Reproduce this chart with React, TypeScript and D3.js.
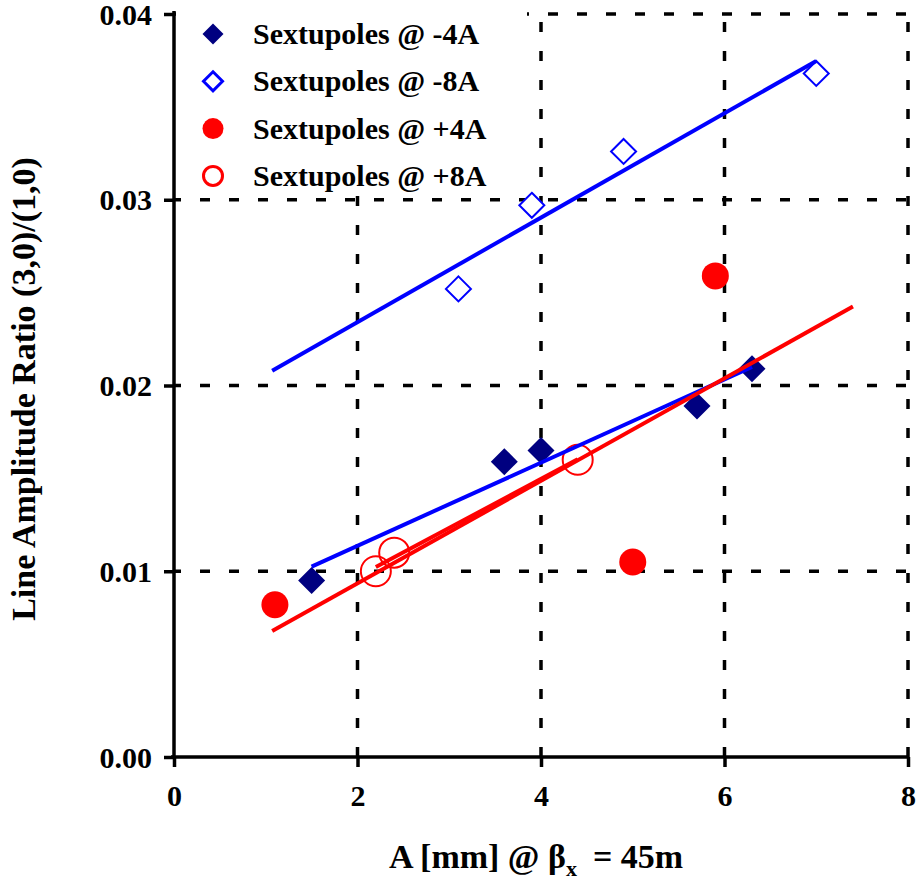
import React, { useRef, useEffect } from "react"
import * as d3 from "d3"

// series: [A (mm), ratio]
const minus4A: [number, number][] = [[1.5, 0.0095], [3.6, 0.0159], [4.0, 0.0165], [5.7, 0.0189], [6.3, 0.0209]]
const minus8A: [number, number][] = [[3.1, 0.0252], [3.9, 0.0297], [4.9, 0.0326], [7.0, 0.0368]]
const plus4A: [number, number][] = [[1.1, 0.0082], [5.0, 0.0105], [5.9, 0.0259]]
const plus8A: [number, number][] = [[2.2, 0.0100], [2.4, 0.0110], [4.4, 0.0160]]

// x extent of each linear trendline
const trendMinus4A = [1.5, 6.3]
const trendMinus8A = [1.07, 7.0]
const trendPlus4A = [1.07, 7.4]
const trendPlus8A = [2.2, 4.4]

const xTicks = [0, 2, 4, 6, 8]
const yTicks = [0, 0.01, 0.02, 0.03, 0.04]
const legendLabels = ["Sextupoles @ -4A", "Sextupoles @ -8A", "Sextupoles @ +4A", "Sextupoles @ +8A"]

const FONT = "'Liberation Serif', 'Times New Roman', serif"
const NAVY = "#000080"
const BLUE = "#0000FF"
const RED = "#FF0000"

const fit = (pts: [number, number][]) => {
    const mx = d3.mean(pts, d => d[0]) as number
    const my = d3.mean(pts, d => d[1]) as number
    const sxy = d3.sum(pts, d => (d[0] - mx) * (d[1] - my))
    const sxx = d3.sum(pts, d => (d[0] - mx) ** 2)
    const k = sxy / sxx
    return (x: number) => my + k * (x - mx)
}

const App = () => {
    let element = useRef<SVGSVGElement>(null)

    useEffect(() => {
        const width = 919, height = 882
        const svg = d3.select(element.current)
        svg.selectAll("*").remove()

        const x = d3.scaleLinear().domain([0, 8]).range([174, 908])
        const y = d3.scaleLinear().domain([0, 0.04]).range([757, 14])

        // dashed grid
        const grid = svg.append("g")
            .attr("stroke", "#000")
            .attr("stroke-width", 3.5)
            .attr("stroke-dasharray", "10,19")
        grid.selectAll(".hg")
            .data(yTicks.slice(1))
            .enter().append("line")
            .attr("x1", x(0)).attr("x2", x(8))
            .attr("y1", d => y(d)).attr("y2", d => y(d))
            .attr("stroke-dashoffset", 3)
        grid.selectAll(".vg")
            .data(xTicks.slice(1))
            .enter().append("line")
            .attr("x1", d => x(d)).attr("x2", d => x(d))
            .attr("y1", y(0)).attr("y2", y(0.04))
            .attr("stroke-dashoffset", 0)

        // legend area hides the grid behind it
        svg.append("rect")
            .attr("x", x(0) + 2).attr("y", 0)
            .attr("width", 527 - x(0) - 2).attr("height", 196)
            .attr("fill", "#fff")

        // axes
        svg.append("g")
            .attr("transform", "translate(" + x(0) + ",0)")
            .call(d3.axisLeft(y).tickValues(yTicks).tickSize(10).tickSizeOuter(0).tickFormat(d3.format(".2f")))
            .call(g => g.select(".domain").attr("stroke-width", 3.5).attr("d", "M0," + (y(0.04) - 3) + "V" + y(0)))
            .call(g => g.selectAll(".tick line").attr("stroke-width", 3.5))
            .call(g => g.selectAll(".tick text")
                .attr("x", -22).attr("dy", "0.34em")
                .attr("font-family", FONT).attr("font-weight", "bold").attr("font-size", 30).attr("fill", "#000"))

        svg.append("g")
            .attr("transform", "translate(0," + y(0) + ")")
            .call(d3.axisBottom(x).tickValues(xTicks).tickSize(10).tickSizeOuter(0).tickFormat(d3.format("d")))
            .call(g => g.select(".domain").attr("stroke-width", 3.5).attr("d", "M" + (x(0) - 3) + ",0H" + x(8)))
            .call(g => g.selectAll(".tick line").attr("stroke-width", 3.5))
            .call(g => g.selectAll(".tick text")
                .attr("y", 38).attr("dy", "0.35em")
                .attr("font-family", FONT).attr("font-weight", "bold").attr("font-size", 30).attr("fill", "#000"))

        // markers
        const diamond = (s: number) => "M0," + (-s) + "L" + s + ",0L0," + s + "L" + (-s) + ",0Z"
        const marks = svg.append("g")
        marks.selectAll(".m4").data(minus4A).enter().append("path")
            .attr("d", diamond(13.5))
            .attr("transform", d => "translate(" + x(d[0]) + "," + y(d[1]) + ")")
            .attr("fill", NAVY)
        marks.selectAll(".m8").data(minus8A).enter().append("path")
            .attr("d", diamond(12.5))
            .attr("transform", d => "translate(" + x(d[0]) + "," + y(d[1]) + ")")
            .attr("fill", "#fff").attr("stroke", BLUE).attr("stroke-width", 2)
        marks.selectAll(".p4").data(plus4A).enter().append("circle")
            .attr("cx", d => x(d[0])).attr("cy", d => y(d[1])).attr("r", 13.5)
            .attr("fill", RED)
        marks.selectAll(".p8").data(plus8A).enter().append("circle")
            .attr("cx", d => x(d[0])).attr("cy", d => y(d[1])).attr("r", 15)
            .attr("fill", "none").attr("stroke", RED).attr("stroke-width", 2)

        // trendlines
        const trends: [[number, number][], number[], string][] = [
            [minus4A, trendMinus4A, BLUE],
            [minus8A, trendMinus8A, BLUE],
            [plus4A, trendPlus4A, RED],
            [plus8A, trendPlus8A, RED],
        ]
        const line = d3.line<number[]>().x(d => x(d[0])).y(d => y(d[1]))
        trends.forEach(([pts, ext, col]) => {
            const f = fit(pts)
            svg.append("path")
                .attr("d", line(ext.map(v => [v, f(v)])))
                .attr("fill", "none").attr("stroke", col).attr("stroke-width", 4)
        })

        // legend
        const leg = svg.append("g")
        legendLabels.forEach((lab, i) => {
            const cy = 34 + i * 47.3
            if (i === 0) leg.append("path").attr("d", diamond(10.5)).attr("transform", "translate(213," + cy + ")").attr("fill", NAVY)
            if (i === 1) leg.append("path").attr("d", diamond(9.5)).attr("transform", "translate(213," + cy + ")").attr("fill", "#fff").attr("stroke", BLUE).attr("stroke-width", 3)
            if (i === 2) leg.append("circle").attr("cx", 213).attr("cy", cy).attr("r", 10.5).attr("fill", RED)
            if (i === 3) leg.append("circle").attr("cx", 213).attr("cy", cy).attr("r", 9.5).attr("fill", "none").attr("stroke", RED).attr("stroke-width", 3)
            leg.append("text")
                .attr("x", 253).attr("y", cy + 10)
                .attr("font-family", FONT).attr("font-weight", "bold").attr("font-size", 30)
                .text(lab)
        })

        // axis titles
        const xt = svg.append("text")
            .attr("x", 536).attr("y", 868)
            .attr("text-anchor", "middle")
            .attr("font-family", FONT).attr("font-weight", "bold").attr("font-size", 34)
        xt.append("tspan").text("A [mm] @ β")
        xt.append("tspan").attr("font-size", 22).attr("dy", 8).text("x")
        xt.append("tspan").attr("dy", -8).attr("dx", 16).text("= 45m")

        svg.append("text")
            .attr("transform", "translate(35,389) rotate(-90)")
            .attr("text-anchor", "middle")
            .attr("font-family", FONT).attr("font-weight", "bold").attr("font-size", 34)
            .text("Line Amplitude Ratio (3,0)/(1,0)")

        svg.attr("width", width).attr("height", height)
    })

    return (
        <svg ref={element} width={919} height={882}
            style={{ position: "absolute", left: 0, top: 0, background: "#fff" }}></svg>
    )
}

export default App
